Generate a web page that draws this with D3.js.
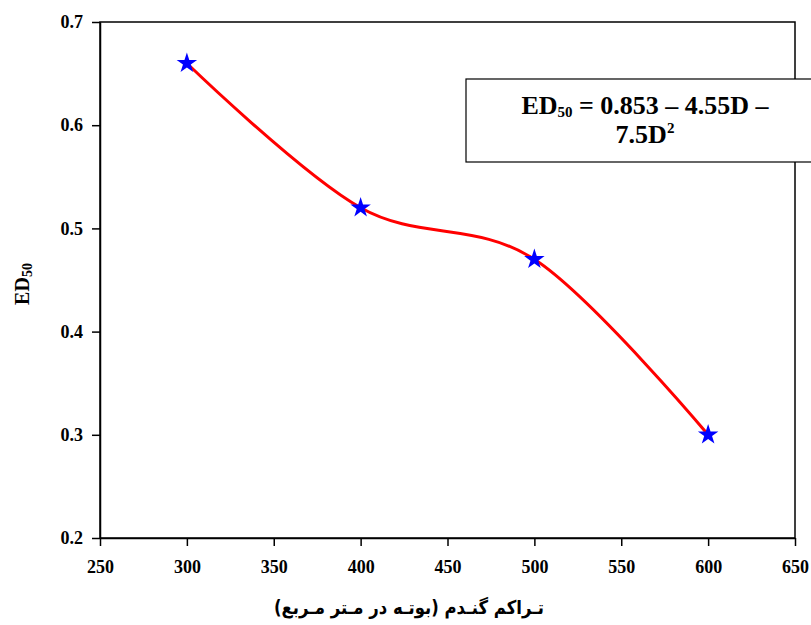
<!DOCTYPE html>
<html><head><meta charset="utf-8">
<script src="https://cdn.jsdelivr.net/npm/d3@7"></script>
<style>body{margin:0;background:#fff}svg{display:block}</style>
</head><body>
<svg id="c" width="811" height="625"></svg>
<script>
const densities = [300, 400, 500, 600];
const ed50 = [0.66, 0.52, 0.47, 0.30];
const xTicks = [250, 300, 350, 400, 450, 500, 550, 600, 650];
const yTicks = [0.2, 0.3, 0.4, 0.5, 0.6, 0.7];
const xTitle = "تـراكم گنـدم (بوتـه در مـتر مـربع)";
const eqLine1 = ["ED", "50", " = 0.853 – 4.55D –"];
const eqLine2 = ["7.5D", "2"];

const svg = d3.select("#c");
const L = 100, R = 795, T = 22, B = 538;
const x = d3.scaleLinear().domain([250, 650]).range([L, R]);
const y = d3.scaleLinear().domain([0.2, 0.7]).range([B, T]);
const serif = "'Liberation Serif','Times New Roman',serif";

svg.append("rect").attr("x", L).attr("y", T).attr("width", R - L).attr("height", B - T)
  .attr("fill", "none").attr("stroke", "#000").attr("stroke-width", 1.5);

const xa = svg.append("g").attr("transform", `translate(0,${B})`)
  .call(d3.axisBottom(x).tickValues(xTicks).tickSize(8).tickSizeOuter(0).tickPadding(14).tickFormat(d3.format("d")));
const ya = svg.append("g").attr("transform", `translate(${L},0)`)
  .call(d3.axisLeft(y).tickValues(yTicks).tickSize(8).tickSizeOuter(0).tickPadding(9).tickFormat(d3.format(".1f")));
[xa, ya].forEach(a => {
  a.select(".domain").attr("stroke", "#000").attr("stroke-width", 1.5);
  a.selectAll(".tick line").attr("stroke", "#000").attr("stroke-width", 1.5);
  a.selectAll("text").attr("font-family", serif).attr("font-weight", "bold").attr("font-size", 18).attr("fill", "#000");
});

const pts = densities.map((d, i) => [d, ed50[i]]);
svg.append("path").datum(pts)
  .attr("d", d3.line().x(d => x(d[0])).y(d => y(d[1])).curve(d3.curveCardinal.tension(0)))
  .attr("fill", "none").attr("stroke", "#ff0000").attr("stroke-width", 3);

svg.selectAll(".pt").data(pts).join("path")
  .attr("transform", d => `translate(${x(d[0])},${y(d[1])})`)
  .attr("d", d3.symbol().type(d3.symbolStar).size(130))
  .attr("fill", "#0000ff");

svg.append("rect").attr("x", 466).attr("y", 79).attr("width", 360).attr("height", 83)
  .attr("fill", "#fff").attr("stroke", "#000").attr("stroke-width", 1.2);
const t1 = svg.append("text").attr("x", 645).attr("y", 114).attr("text-anchor", "middle")
  .attr("font-family", serif).attr("font-weight", "bold").attr("font-size", 26);
t1.append("tspan").text(eqLine1[0]);
t1.append("tspan").attr("font-size", 15).attr("dy", 3).text(eqLine1[1]);
t1.append("tspan").attr("dy", -3).text(eqLine1[2]);
const t2 = svg.append("text").attr("x", 645).attr("y", 143).attr("text-anchor", "middle")
  .attr("font-family", serif).attr("font-weight", "bold").attr("font-size", 26);
t2.append("tspan").text(eqLine2[0]);
t2.append("tspan").attr("font-size", 15).attr("dy", -10).text(eqLine2[1]);

svg.append("text").attr("x", 409).attr("y", 614).attr("text-anchor", "middle")
  .attr("font-family", "'DejaVu Sans',sans-serif").attr("font-weight", "bold").attr("font-size", 19)
  .attr("direction", "rtl").attr("textLength", 270).attr("lengthAdjust", "spacingAndGlyphs").text(xTitle);
const yt = svg.append("text").attr("transform", "translate(29,284) rotate(-90)").attr("text-anchor", "middle")
  .attr("font-family", serif).attr("font-weight", "bold").attr("font-size", 20);
yt.append("tspan").text("ED");
yt.append("tspan").attr("font-size", 14).attr("dy", 3).text("50");
</script>
</body></html>
